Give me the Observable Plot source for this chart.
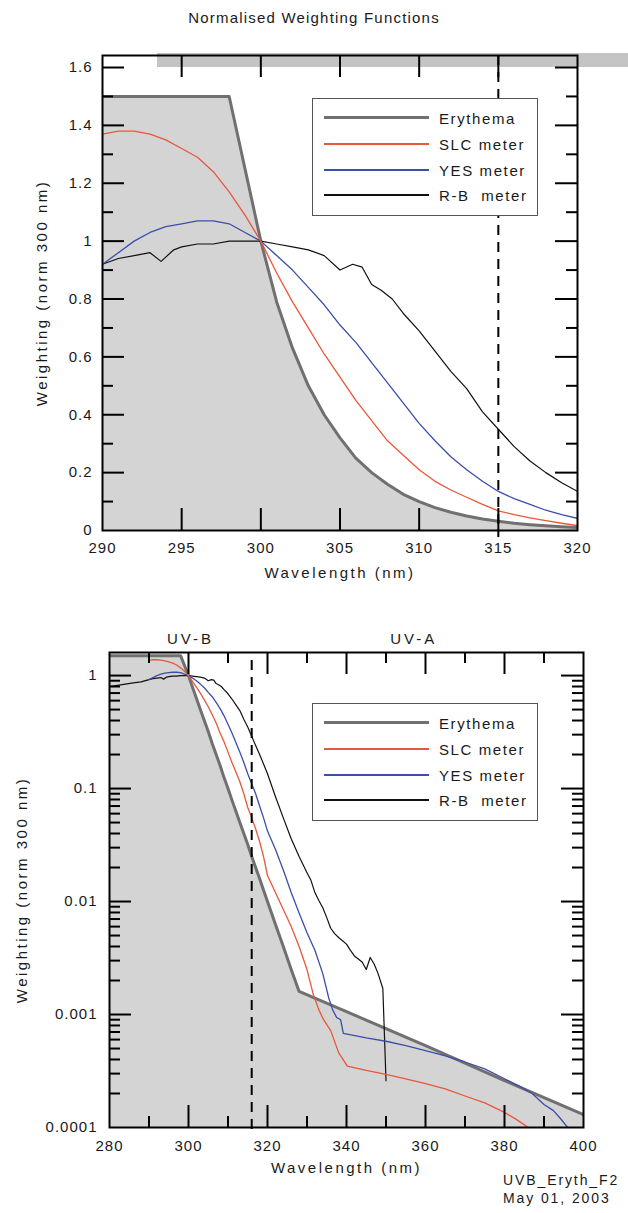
<!DOCTYPE html>
<html>
<head>
<meta charset="utf-8">
<script src="https://cdn.jsdelivr.net/npm/d3@7"></script>
<script src="https://cdn.jsdelivr.net/npm/@observablehq/plot@0.6"></script>
<style>
  body { margin: 0; background: #fff; }
  #wrap { position: relative; width: 628px; height: 1213px; overflow: hidden;
          font-family: "Liberation Sans", Arial, Helvetica, sans-serif; color: #1a1a1a; }
  .abs { position: absolute; }
  .title { left: 0; width: 628px; top: 9px; text-align: center; font-size: 15px; letter-spacing: 1.2px; }
  .bar { left: 157px; top: 53px; width: 471px; height: 14px; background: #c4c4c4; }
  .legend { background: #fff; border: 1px solid #555; box-sizing: border-box; }
  .lrow { position: absolute; left: 0; width: 100%; height: 0; }
  .lline { position: absolute; left: 11px; width: 105px; }
  .ltext { position: absolute; left: 126px; font-size: 15px; letter-spacing: 1.6px; line-height: 1; transform: translateY(-50%); white-space: nowrap; }
  .note { left: 503px; font-size: 14px; letter-spacing: 1.9px; line-height: 18px; }
  svg { position: absolute; left: 0; }
</style>
</head>
<body>
<div id="wrap">
  <div class="abs title">Normalised Weighting Functions</div>
  <div class="abs bar"></div>
</div>
<script>
// ---------------- data ----------------
const seriesNames = ["Erythema", "SLC meter", "YES meter", "R-B meter"];

// Erythema action spectrum (normalised at 300 nm)
const eryNm = [280, 298, 300, 301, 302, 303, 304, 305, 306, 307, 308, 309, 310,
  311, 312, 313, 314, 315, 316, 317, 318, 319, 320, 322, 324, 326, 328, 340, 360, 380, 400];
const eryW = [1.5, 1.5, 1.0, 0.79, 0.63, 0.5, 0.4, 0.32, 0.25, 0.2, 0.16, 0.125, 0.1,
  0.079, 0.063, 0.05, 0.04, 0.032, 0.025, 0.02, 0.016, 0.0126, 0.01, 0.0063, 0.004, 0.0025, 0.0016,
  0.00106, 0.00053, 0.00026, 0.00013];

// SLC meter
const slcNm = [290, 291, 292, 293, 294, 295, 296, 297, 298, 299, 300,
  301, 302, 303, 304, 305, 306, 307, 308, 309, 310, 311, 312, 313, 314, 315, 316, 317, 318, 319, 320,
  322, 324, 326, 328, 330, 331.6, 333, 334.2, 336, 338, 340.2,
  345, 350, 355, 360, 365, 370, 375, 380, 383, 386];
const slcW = [1.37, 1.38, 1.38, 1.37, 1.35, 1.32, 1.29, 1.24, 1.17, 1.09, 1.0,
  0.89, 0.79, 0.70, 0.61, 0.53, 0.45, 0.38, 0.31, 0.26, 0.21, 0.17, 0.14, 0.115, 0.09, 0.068, 0.055, 0.044, 0.034, 0.025, 0.017,
  0.012, 0.0085, 0.006, 0.004, 0.0025, 0.0015, 0.0011, 0.0009, 0.00072, 0.00046, 0.00035,
  0.00032, 0.000295, 0.00027, 0.000245, 0.00022, 0.00019, 0.000165, 0.000136, 0.000118, 0.0001];

// YES meter
const yesNm = [290, 291, 292, 293, 294, 295, 296, 297, 298, 299, 300,
  301, 302, 303, 304, 305, 306, 307, 308, 309, 310, 311, 312, 313, 314, 315, 316, 317, 318, 319, 320,
  322, 324, 326, 328, 330, 332, 334, 335.5, 336.5, 337.5, 338.5, 339.2,
  345, 350, 355, 360, 365, 370, 375, 380, 384, 387, 390, 392.4, 394, 396];
const yesW = [0.92, 0.96, 1.0, 1.03, 1.05, 1.06, 1.07, 1.07, 1.06, 1.03, 1.0,
  0.95, 0.9, 0.84, 0.78, 0.71, 0.65, 0.58, 0.51, 0.44, 0.37, 0.31, 0.255, 0.21, 0.17, 0.135, 0.11, 0.09, 0.07, 0.055, 0.042,
  0.029, 0.019, 0.012, 0.0079, 0.0053, 0.0037, 0.0023, 0.0014, 0.0011, 0.00094, 0.0009, 0.00068,
  0.00062, 0.00058, 0.00053, 0.00048, 0.00043, 0.00038, 0.00033, 0.00027, 0.00023, 0.0002, 0.00016, 0.000141, 0.000122, 0.0001];

// R-B meter
const rbNm = [280, 282, 284, 286, 288,
  290, 291, 292, 293, 293.7, 294.5, 295, 296, 297, 298, 299, 300,
  301, 302, 303, 304, 305, 305.8, 306.4, 307, 307.6, 308.3, 309, 310,
  311, 312, 313, 314, 315, 316, 317, 318, 319, 320,
  322, 324, 326, 328, 330,
  331, 332, 333, 334, 335, 336, 337, 338, 339, 340, 341, 342, 343, 344, 345, 346, 347, 348,
  349.2, 350];
const rbW = [0.8, 0.82, 0.84, 0.86, 0.88,
  0.92, 0.94, 0.95, 0.96, 0.93, 0.97, 0.98, 0.99, 0.99, 1.0, 1.0, 1.0,
  0.99, 0.98, 0.97, 0.95, 0.90, 0.92, 0.91, 0.85, 0.83, 0.80, 0.75, 0.69,
  0.62, 0.55, 0.49, 0.41, 0.35, 0.29, 0.24, 0.2, 0.165, 0.135,
  0.085, 0.055, 0.036, 0.025, 0.018,
  0.0154, 0.012, 0.0102, 0.0088, 0.0072, 0.0058, 0.0052, 0.0048, 0.0045, 0.0042, 0.0037, 0.0033, 0.0031, 0.0029, 0.0025, 0.0032, 0.0028, 0.0023,
  0.0017, 0.00026];

// axes / ticks
const linXDomain = [290, 320];
const linYDomain = [0, 1.6415];
const linXLabels = [290, 295, 300, 305, 310, 315, 320];
const linXMajor = [295, 300, 305, 310, 315];
const linYLabels = [0, 0.2, 0.4, 0.6, 0.8, 1, 1.2, 1.4, 1.6];
const linYMajor = [0.2, 0.4, 0.6, 0.8, 1, 1.2, 1.4, 1.6];
const linYMinor = [0.1, 0.3, 0.5, 0.7, 0.9, 1.1, 1.3, 1.5];

const logXDomain = [280, 400];
const logYDomain = [0.0001, 1.6];
const logXLabels = [280, 300, 320, 340, 360, 380, 400];
const logXMajor = [300, 320, 340, 360, 380];
const logXMinor = [290, 310, 330, 350, 370, 390];
const logYLabels = [1, 0.1, 0.01, 0.001, 0.0001];
const logYMajor = [1, 0.1, 0.01, 0.001];
const logYMinor = [0.0001, 0.001, 0.01, 0.1].flatMap(d => [2, 3, 4, 5, 6, 7, 8, 9].map(k => +(k * d).toPrecision(3)));

const boundaryTop = [315];
const boundaryBottom = [316];
const bandLabels = ["UV-B", "UV-A"];
const bandCenters = [300.5, 357];

const colors = ["#707070", "#e8573a", "#3b4ea8", "#111111"];
const widths = [3, 1.3, 1.3, 1.2];

// ---------------- build ----------------
const zip = (a, b) => a.map((x, i) => ({nm: x, w: b[i]}));
const ery = zip(eryNm, eryW);
const slc = zip(slcNm, slcW);
const yes = zip(yesNm, yesW);
const rb = zip(rbNm, rbW);
const seriesData = [ery, slc, yes, rb];

const FONT = "'Liberation Sans', Arial, Helvetica, sans-serif";
const svgStyle = `background: transparent; font-family: ${FONT}; font-size: 15px; letter-spacing: 1px; color: #1a1a1a; overflow: visible;`;
const TICK = {stroke: "#000", strokeWidth: 2};
const LONG = 22, SHORT = 11;
const titleText = {fontSize: 15, textAnchor: "middle", lineAnchor: "middle"};

function frameTicks(fw, fh, xMaj, xMin, yMaj, yMin) {
  const m = [];
  const addY = (vals, len) => {
    m.push(Plot.tickY(vals, {y: d => d, insetRight: fw - len, ...TICK}));
    m.push(Plot.tickY(vals, {y: d => d, insetLeft: fw - len, ...TICK}));
  };
  const addX = (vals, len) => {
    m.push(Plot.tickX(vals, {x: d => d, insetTop: fh - len, ...TICK}));
    m.push(Plot.tickX(vals, {x: d => d, insetBottom: fh - len, ...TICK}));
  };
  addY(yMaj, LONG); if (yMin.length) addY(yMin, SHORT);
  addX(xMaj, LONG); if (xMin.length) addX(xMin, SHORT);
  return m;
}

function curveMarks() {
  const order = [0, 3, 2, 1];
  return order.map(i => Plot.line(seriesData[i], {
    x: "nm", y: "w", stroke: colors[i], strokeWidth: widths[i], clip: true,
    strokeLinejoin: "round"
  }));
}

// ----- top panel (linear) -----
const T = {top: 30, height: 560, mt: 25, mb: 60, ml: 102, mr: 51};
const fw1 = 628 - T.ml - T.mr, fh1 = T.height - T.mt - T.mb;
const topPlot = Plot.plot({
  width: 628, height: T.height,
  marginTop: T.mt, marginBottom: T.mb, marginLeft: T.ml, marginRight: T.mr,
  x: {domain: linXDomain},
  y: {domain: linYDomain},
  style: svgStyle,
  marks: [
    Plot.areaY(ery, {x: "nm", y: "w", fill: "#d4d4d4", clip: true}),
    ...curveMarks(),
    Plot.ruleX(boundaryTop, {x: d => d, stroke: "#000", strokeWidth: 2, strokeDasharray: "10,7", insetBottom: -7}),
    ...frameTicks(fw1, fh1, linXMajor, [], linYMajor, linYMinor),
    Plot.frame({stroke: "#000", strokeWidth: 2}),
    Plot.axisX(linXLabels, {tickSize: 0, tickPadding: 12, tickFormat: d => String(d), label: null, fontSize: 15}),
    Plot.axisY(linYLabels, {tickSize: 0, tickPadding: 10, tickFormat: d => String(d), label: null, fontSize: 15}),
    Plot.text(["Wavelength (nm)"], {text: d => d, frameAnchor: "bottom", dy: 43, ...titleText}),
    Plot.text(["Weighting (norm 300 nm)"], {text: d => d, frameAnchor: "left", rotate: -90, dx: -60, ...titleText})
  ]
});
topPlot.style.top = T.top + "px";

// ----- bottom panel (log) -----
const B = {top: 610, height: 603, mt: 42, mb: 86, ml: 109, mr: 45};
const fw2 = 628 - B.ml - B.mr, fh2 = B.height - B.mt - B.mb;
const botPlot = Plot.plot({
  width: 628, height: B.height,
  marginTop: B.mt, marginBottom: B.mb, marginLeft: B.ml, marginRight: B.mr,
  x: {domain: logXDomain},
  y: {type: "log", domain: logYDomain},
  style: svgStyle,
  marks: [
    Plot.areaY(ery, {x: "nm", y1: () => logYDomain[0], y2: "w", fill: "#d4d4d4", clip: true}),
    ...curveMarks(),
    Plot.ruleX(boundaryBottom, {x: d => d, stroke: "#000", strokeWidth: 2, strokeDasharray: "10,7", insetTop: 8, insetBottom: -7}),
    ...frameTicks(fw2, fh2, logXMajor, logXMinor, logYMajor, logYMinor),
    Plot.frame({stroke: "#000", strokeWidth: 2}),
    Plot.axisX(logXLabels, {tickSize: 0, tickPadding: 13, tickFormat: d => String(d), label: null, fontSize: 15}),
    Plot.axisY(logYLabels, {tickSize: 0, tickPadding: 12, tickFormat: d => String(d), label: null, fontSize: 15}),
    Plot.text(bandLabels, {text: d => d, x: (d, i) => bandCenters[i], frameAnchor: "top", dy: -19, fontSize: 15}),
    Plot.text(["Wavelength (nm)"], {text: d => d, frameAnchor: "bottom", dy: 41, ...titleText}),
    Plot.text(["Weighting (norm 300 nm)"], {text: d => d, frameAnchor: "left", rotate: -90, dx: -87, ...titleText})
  ]
});
botPlot.style.top = B.top + "px";

// wider tracking for axis titles and band labels
[topPlot, botPlot].forEach(svg => {
  svg.querySelectorAll("text").forEach(t => {
    const s = t.textContent;
    if (s === "Wavelength (nm)" || s === "Weighting (norm 300 nm)") t.setAttribute("letter-spacing", "2.5px");
    if (s === "UV-B" || s === "UV-A") t.setAttribute("letter-spacing", "3px");
  });
});

const wrap = document.getElementById("wrap");
wrap.appendChild(topPlot);
wrap.appendChild(botPlot);

// ----- legends (HTML) -----
function legend(left, top) {
  const box = document.createElement("div");
  box.className = "abs legend";
  Object.assign(box.style, {left: left + "px", top: top + "px", width: "226px", height: "118px"});
  seriesNames.forEach((name, i) => {
    const row = document.createElement("div");
    row.className = "lrow";
    row.style.top = Math.round(19 + i * 25.8) + "px";
    const ln = document.createElement("div");
    ln.className = "lline";
    const h = i === 0 ? 3 : 1.5;
    Object.assign(ln.style, {height: h + "px", top: (-Math.round(h / 2)) + "px", background: colors[i]});
    const tx = document.createElement("div");
    tx.className = "ltext";
    tx.textContent = name.replace("R-B meter", "R-B\u00a0 meter");
    row.appendChild(ln); row.appendChild(tx);
    box.appendChild(row);
  });
  wrap.appendChild(box);
}
legend(312, 98);
legend(312, 703);

// ----- footnote -----
const note = document.createElement("div");
note.className = "abs note";
note.style.top = "1171px";
note.innerHTML = "UVB_Eryth_F2<br>May 01, 2003";
wrap.appendChild(note);
</script>
</body>
</html>
